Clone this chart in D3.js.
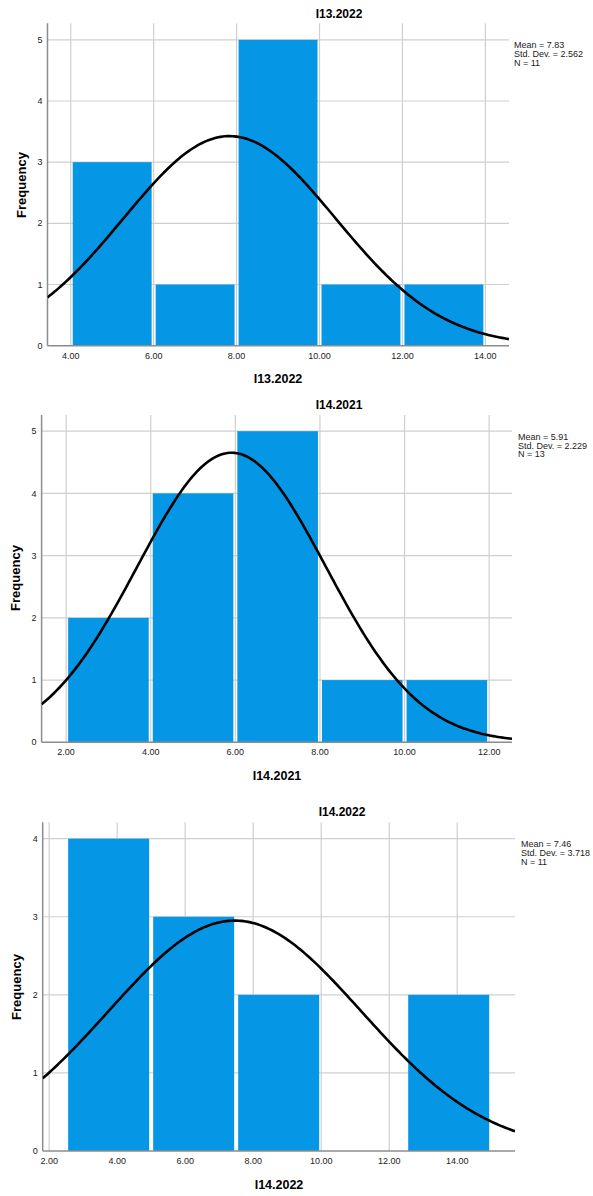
<!DOCTYPE html>
<html>
<head>
<meta charset="utf-8">
<script src="https://cdn.jsdelivr.net/npm/d3@7"></script>
<style>
  body { margin: 0; background: #fff; }
  text { font-family: "Liberation Sans", Arial, sans-serif; }
</style>
</head>
<body>
<svg id="graph"></svg>
<script>
// data
var titles = ["I13.2022", "I14.2021", "I14.2022"]
var binStarts = [[4, 6, 8, 10, 12], [2, 4, 6, 8, 10], [2.5, 5, 7.5, 10, 12.5]]
var binWidths = [2, 2, 2.5]
var counts = [[3, 1, 5, 1, 1], [2, 4, 5, 1, 1], [4, 3, 2, 0, 2]]
var means = [7.83, 5.91, 7.46]
var stdDevs = [2.562, 2.229, 3.718]
var ns = [11, 13, 11]
var xTicks = [[4, 6, 8, 10, 12, 14], [2, 4, 6, 8, 10, 12], [2, 4, 6, 8, 10, 12, 14]]
var yTicks = [[0, 1, 2, 3, 4, 5], [0, 1, 2, 3, 4, 5], [0, 1, 2, 3, 4]]
var xDomains = [[3.44, 14.57], [1.42, 12.54], [1.81, 15.70]]
var yMax = [5.27, 5.26, 4.21]

var width = 593
var height = 1196
var blue = "#0597e6"

// panel frames (pixels)
var panels = [
  {left: 47.5, right: 509, top: 23.3, bottom: 345.7, titleX: 339, titleY: 13.5, xTitleX: 278, xTitleY: 378.5, freqX: 21, freqY: 185, legX: 514, legY: 45},
  {left: 41.6, right: 512, top: 415, bottom: 742.3, titleX: 339, titleY: 405, xTitleX: 277, xTitleY: 775.7, freqX: 15, freqY: 578, legX: 518, legY: 436.7},
  {left: 42.7, right: 515, top: 822.3, bottom: 1151, titleX: 342, titleY: 811.7, xTitleX: 279, xTitleY: 1185, freqX: 16, freqY: 987, legX: 521, legY: 844.3}
]

var svg = d3.select("#graph")
  .attr("width", width)
  .attr("height", height)

var normal = function(x, m, s) {
  return Math.exp(-0.5 * Math.pow((x - m) / s, 2)) / (s * Math.sqrt(2 * Math.PI))
}

panels.forEach(function(p, i) {
  var x = d3.scaleLinear().domain(xDomains[i]).range([p.left, p.right])
  var y = d3.scaleLinear().domain([0, yMax[i]]).range([p.bottom, p.top])
  var g = svg.append("g")

  g.append("clipPath").attr("id", "clip" + i)
    .append("rect")
    .attr("x", p.left).attr("y", p.top)
    .attr("width", p.right - p.left).attr("height", p.bottom - p.top)

  // grid lines
  g.selectAll("line.vg").data(xTicks[i]).enter().append("line")
    .attr("class", "vg")
    .attr("x1", function(d) { return x(d) }).attr("x2", function(d) { return x(d) })
    .attr("y1", p.top).attr("y2", p.bottom)
    .attr("stroke", "#cfcfcf").attr("stroke-width", 1.2)
  g.selectAll("line.hg").data(yTicks[i].slice(1)).enter().append("line")
    .attr("class", "hg")
    .attr("x1", p.left).attr("x2", p.right)
    .attr("y1", function(d) { return y(d) }).attr("y2", function(d) { return y(d) })
    .attr("stroke", "#cfcfcf").attr("stroke-width", 1.2)

  // bars
  var bins = binStarts[i].map(function(s, k) { return {x0: s, x1: s + binWidths[i], n: counts[i][k]} })
  g.selectAll("rect.bar").data(bins.filter(function(b) { return b.n > 0 })).enter().append("rect")
    .attr("class", "bar")
    .attr("x", function(b) { return x(b.x0) + 2 })
    .attr("width", function(b) { return x(b.x1) - x(b.x0) - 4 })
    .attr("y", function(b) { return y(b.n) })
    .attr("height", function(b) { return y(0) - y(b.n) })
    .attr("fill", blue)

  // axes lines
  g.append("line")
    .attr("x1", p.left).attr("x2", p.left).attr("y1", p.top).attr("y2", p.bottom)
    .attr("stroke", "#8c8c8c").attr("stroke-width", 1.5)
  g.append("line")
    .attr("x1", p.left).attr("x2", p.right).attr("y1", p.bottom).attr("y2", p.bottom)
    .attr("stroke", "#8c8c8c").attr("stroke-width", 1.5)

  // normal curve
  var pts = d3.range(0, 201).map(function(k) {
    var xv = xDomains[i][0] + (xDomains[i][1] - xDomains[i][0]) * k / 200
    return [xv, ns[i] * binWidths[i] * normal(xv, means[i], stdDevs[i])]
  })
  g.append("path")
    .datum(pts)
    .attr("clip-path", "url(#clip" + i + ")")
    .attr("fill", "none")
    .attr("stroke", "#000")
    .attr("stroke-width", 2.6)
    .attr("d", d3.line().x(function(d) { return x(d[0]) }).y(function(d) { return y(d[1]) }))

  // tick labels
  g.selectAll("text.xt").data(xTicks[i]).enter().append("text")
    .attr("x", function(d) { return x(d) })
    .attr("y", p.bottom + 10)
    .attr("dy", "0.35em")
    .attr("text-anchor", "middle")
    .attr("font-size", 9).attr("fill", "#222")
    .text(function(d) { return d3.format(".2f")(d) })
  g.selectAll("text.yt").data(yTicks[i]).enter().append("text")
    .attr("x", p.left - 5)
    .attr("y", function(d) { return y(d) })
    .attr("dy", "0.35em")
    .attr("text-anchor", "end")
    .attr("font-size", 9).attr("fill", "#222")
    .text(function(d) { return d })

  // titles
  g.append("text")
    .attr("x", p.titleX).attr("y", p.titleY).attr("dy", "0.35em")
    .attr("text-anchor", "middle").attr("font-size", 12).attr("font-weight", "bold")
    .text(titles[i])
  g.append("text")
    .attr("x", p.xTitleX).attr("y", p.xTitleY).attr("dy", "0.35em")
    .attr("text-anchor", "middle").attr("font-size", 12.5).attr("font-weight", "bold")
    .text(titles[i])
  g.append("text")
    .attr("transform", "translate(" + p.freqX + "," + p.freqY + ") rotate(-90)")
    .attr("dy", "0.35em")
    .attr("text-anchor", "middle").attr("font-size", 13).attr("font-weight", "bold")
    .text("Frequency")

  // stats legend
  var lines = ["Mean = " + means[i], "Std. Dev. = " + stdDevs[i], "N = " + ns[i]]
  g.selectAll("text.leg").data(lines).enter().append("text")
    .attr("x", p.legX)
    .attr("y", function(d, k) { return p.legY + k * 8.7 })
    .attr("dy", "0.35em")
    .attr("font-size", 9).attr("fill", "#222")
    .text(function(d) { return d })
})
</script>
</body>
</html>
